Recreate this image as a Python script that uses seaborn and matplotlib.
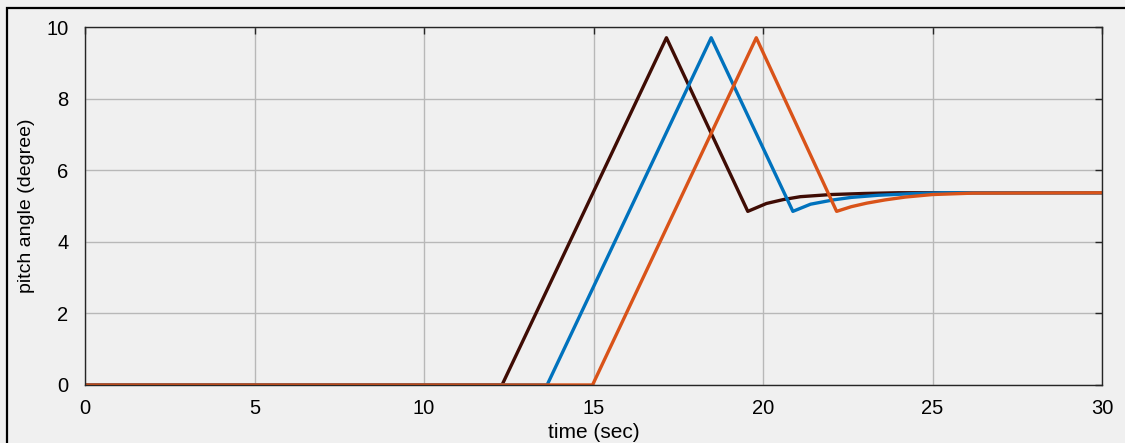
import matplotlib
matplotlib.use("Agg")
import matplotlib.pyplot as plt
import seaborn as sns
import pandas as pd
from matplotlib.patches import Rectangle

# Data
t_brown = [0, 12.3, 17.15, 19.55, 20.1, 20.6, 21.1, 22.0, 23.0, 24.0, 30]
y_brown = [0, 0, 9.7, 4.85, 5.07, 5.18, 5.26, 5.32, 5.35, 5.37, 5.37]
t_blue = [0, 13.63, 18.47, 20.88, 21.4, 22.07, 22.6, 23.4, 24.3, 25.3, 30]
y_blue = [0, 0, 9.7, 4.85, 5.05, 5.17, 5.24, 5.30, 5.34, 5.37, 5.37]
t_orange = [0, 14.97, 19.8, 22.17, 22.6, 23.06, 23.6, 24.2, 25.0, 26.2, 30]
y_orange = [0, 0, 9.7, 4.85, 4.98, 5.08, 5.17, 5.25, 5.32, 5.36, 5.37]

series_names = ["case 1", "case 2", "case 3"]
colors = ["#3f0c04", "#0072bd", "#d95319"]

df = pd.concat([
    pd.DataFrame({"t": t_brown, "y": y_brown, "s": series_names[0]}),
    pd.DataFrame({"t": t_blue, "y": y_blue, "s": series_names[1]}),
    pd.DataFrame({"t": t_orange, "y": y_orange, "s": series_names[2]}),
], ignore_index=True)

sns.set_theme(style="white")
plt.rcParams["font.family"] = ["Liberation Sans", "DejaVu Sans"]

fig = plt.figure(figsize=(11.25, 4.43), dpi=100, facecolor="#f0f0f0")
ax = fig.add_axes([0.0756, 0.131, 0.904, 0.808])
ax.set_facecolor("#f0f0f0")

sns.lineplot(data=df, x="t", y="y", hue="s", palette=colors, linewidth=2.4,
             legend=False, ax=ax, sort=False, estimator=None)

ax.set_xlim(0, 30)
ax.set_ylim(0, 10)
ax.set_xticks([0, 5, 10, 15, 20, 25, 30])
ax.set_yticks([0, 2, 4, 6, 8, 10])
ax.grid(True, color="#b8b8b8", linewidth=1.0)
ax.tick_params(direction="in", top=True, right=True, length=5, width=1,
               colors="#262626", labelsize=14.5, labelcolor="black")
ax.tick_params(axis="x", pad=10)
ax.tick_params(axis="y", pad=12)
for sp in ax.spines.values():
    sp.set_color("#262626")
    sp.set_linewidth(1.0)
ax.set_xlabel("time (sec)", fontsize=15, color="black", labelpad=4)
ax.set_ylabel("pitch angle (degree)", fontsize=14, color="black", labelpad=8)

fig.patches.append(Rectangle((7 / 1125, -0.01), 1.2, 1 - 8 / 443 + 0.01,
                             transform=fig.transFigure, fill=False,
                             edgecolor="black", linewidth=1.6))

fig.savefig("out.png", dpi=100, facecolor=fig.get_facecolor())
